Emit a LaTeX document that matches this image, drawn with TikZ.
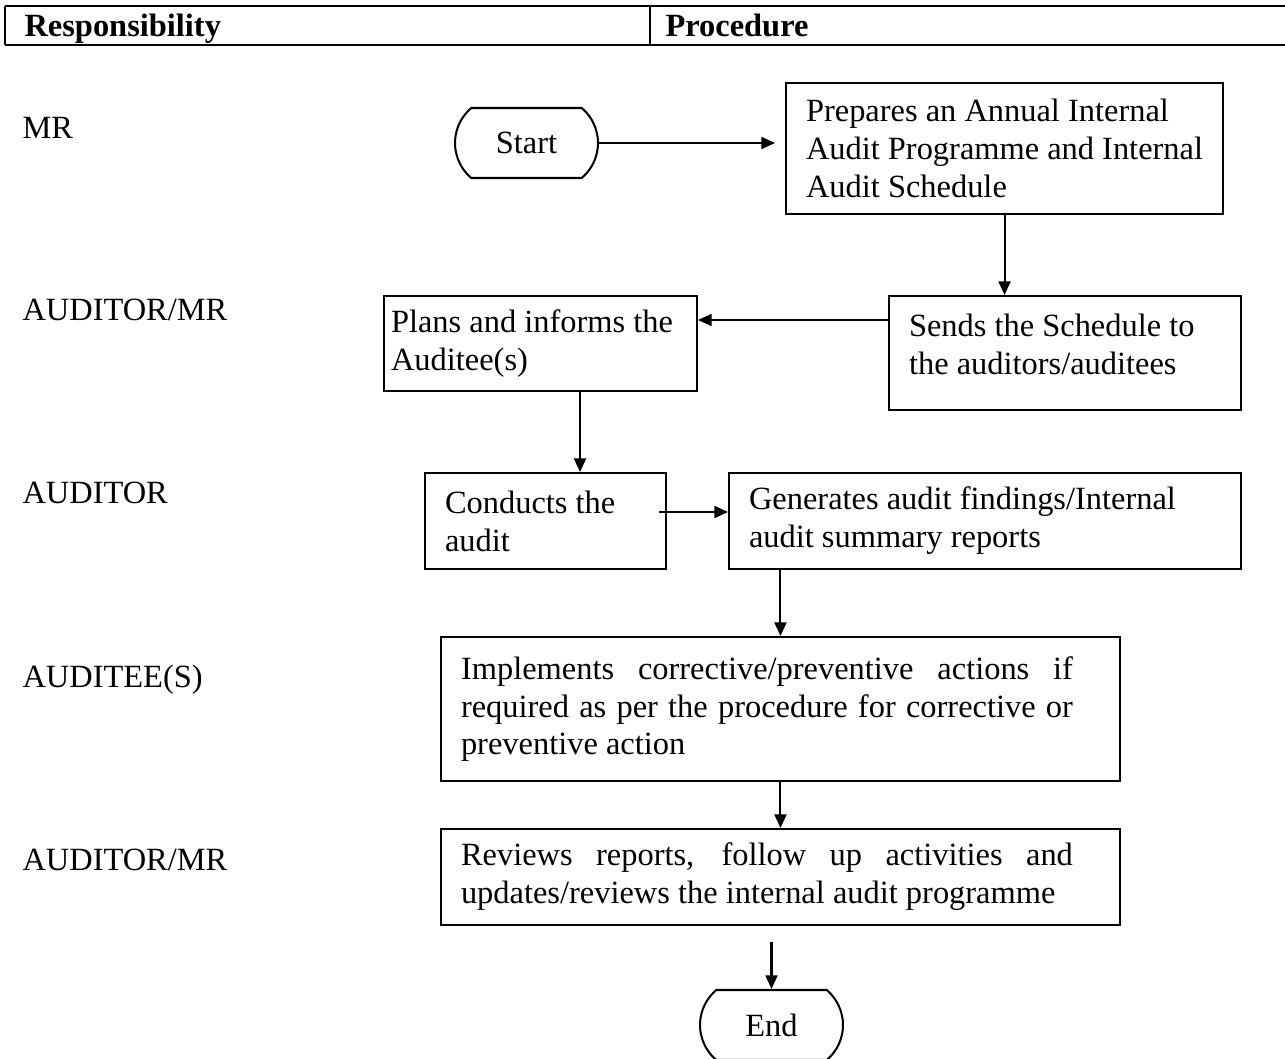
\documentclass[tikz,border=0pt,12pt]{standalone}
\usepackage{fontspec}
\setmainfont{Liberation Serif}
\usetikzlibrary{positioning,shapes.misc,arrows.meta}
\hyphenpenalty=10000
\exhyphenpenalty=10000

\begin{document}
\begin{tikzpicture}[x=0.37pt, y=-0.37pt, >={Triangle[length=5pt,width=4.4pt]},
    font=\fontsize{12pt}{14pt}\selectfont,
    procbox/.style={draw, line width=0.75pt, anchor=north west, align=left, inner xsep=7.4pt, inner ysep=0pt,
        execute at begin node={\spaceskip=0pt\xspaceskip=0pt\relax}},
    term/.style={draw, line width=0.75pt, rounded rectangle, rounded rectangle arc length=100, minimum width=52.9pt, minimum height=25.9pt, inner sep=0pt},
    role/.style={anchor=west, inner sep=0pt},
    flow/.style={->, line width=0.75pt}]
    \useasboundingbox (0,0) rectangle (1285,1059);

    % header row
    \draw[line width=0.5pt] (5,6) -- (5,45);
    \draw[line width=0.5pt] (650,6) -- (650,45);
    \draw[line width=1.1pt] (5,6) -- (1300,6);
    \draw[line width=1.1pt] (5,45) -- (1300,45);
    \node[role, anchor=base west] (resp) at (24,37) {\bfseries Responsibility};
    \node[role, anchor=base west] (proc) at (665,37) {\bfseries Procedure};

    % who does what
    \node[role] (r1) at (22,128) {MR};
    \node[role] (r2) at (22,310) {AUDITOR/MR};
    \node[role] (r3) at (22,493) {AUDITOR};
    \node[role] (r4) at (22,680) {AUDITEE(S)};
    \node[role] (r5) at (22,860) {AUDITOR/MR};

    % steps
    \node[term] (start) at (526.5,143) {Start};
    \node[procbox, text width=146.9pt, minimum height=48.5pt] (prepare) at (785,82)
        {Prepares an Annual Internal\\ Audit Programme and Internal\\ Audit Schedule};
    \node[procbox, text width=115.4pt, minimum height=42.2pt] (send) at (888,295)
        {Sends the Schedule to\\ the auditors/auditees\\[-7.5pt]\mbox{}};
    \node[procbox, inner xsep=2.6pt, text width=110.6pt, minimum height=35.2pt] (plan) at (383,295)
        {Plans and informs the\\ Auditee(s)};
    \node[procbox, text width=74.4pt, minimum height=35.5pt] (conduct) at (424,472)
        {Conducts the\\ audit};
    \node[procbox, text width=174.6pt, minimum height=35.5pt] (report) at (728,472)
        {Generates audit findings/Internal\\ audit summary reports};
    \node[procbox, text width=236.4pt, minimum height=53.3pt] (implement) at (440,636)
        {\parbox{226.4pt}{\rightskip=0pt Implements corrective/preventive actions if\linebreak
         required as per the procedure for corrective or\linebreak preventive action}};
    \node[procbox, text width=236.4pt, minimum height=35.5pt] (review) at (440,828)
        {\parbox{226.4pt}{\rightskip=0pt Reviews reports, follow up activities and\linebreak
         updates/reviews the internal audit programme}};
    \node[term] (stop) at (771.5,1025) {End};

    % arrows
    \coordinate (sp) at ([yshift=-9.25pt]send.north west);
    \coordinate (pc) at ([xshift=72.9pt]plan.south west);
    \coordinate (cr) at ([xshift=-3pt,yshift=-14.8pt]conduct.north east);
    \draw[flow, shorten >=3.7pt] (start.east) -- (start.east -| prepare.west);
    \draw[flow] (prepare.south) -- (prepare.south |- send.north);
    \draw[flow] (sp) -- (sp -| plan.east);
    \draw[flow] (pc) -- (pc |- conduct.north);
    \draw[flow] (cr) -- (cr -| report.west);
    \draw[flow] (implement.north |- report.south) -- (implement.north);
    \draw[flow] (implement.south) -- (review.north);
    \draw[flow, shorten <=5.9pt] (review.south -| stop.north) -- (stop.north);
\end{tikzpicture}
\end{document}
